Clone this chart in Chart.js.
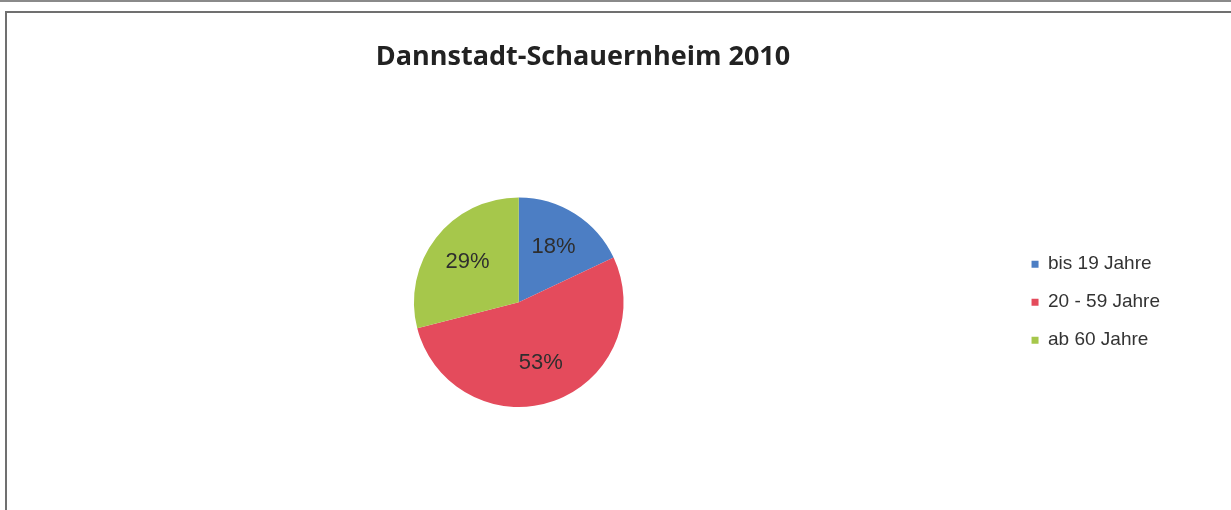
<!DOCTYPE html>
<html lang="de">
<head>
  <meta charset="UTF-8" />
  <title>Dannstadt-Schauernheim 2010</title>
  <script src="https://cdn.jsdelivr.net/npm/chart.js@4.4.0/dist/chart.umd.min.js"></script>
  <style>
    body {
      margin: 0;
      background: #ffffff;
      width: 1231px;
      height: 510px;
      overflow: hidden;
      position: relative;
    }
    /* scanned frame lines */
    .topline {
      position: absolute;
      left: 0; top: 0;
      width: 1231px; height: 2px;
      background: #8a8a8a;
    }
    .frame {
      position: absolute;
      left: 5px; top: 11px;
      width: 1240px; height: 520px;
      border: 2px solid #707070;
    }
    .chart-box {
      position: absolute;
      left: -4px; top: 0;
      width: 1174px; height: 510px;
    }
  </style>
</head>
<body>
  <div class="topline"></div>
  <div class="frame"></div>
  <div class="chart-box"><canvas id="pieChart"></canvas></div>

  <script>
    const title = 'Dannstadt-Schauernheim 2010';
    const categories = ['bis 19 Jahre', '20 - 59 Jahre', 'ab 60 Jahre'];
    const shares = [18, 53, 29];
    const colors = ['#4c7ec4', '#e44b5c', '#a6c74b'];

    // empty box on the left so the pie sits left of the title centre
    const leftSpacer = {
      id: 'leftSpacer',
      beforeInit(chart) {
        Chart.layouts.addBox(chart, {
          position: 'left', weight: 0, fullSize: false,
          options: {},
          left: 0, top: 0, right: 0, bottom: 0, width: 0, height: 0,
          isHorizontal() { return false; },
          update(maxWidth, maxHeight) { this.width = 29; this.height = maxHeight; },
          draw() {}
        });
      }
    };

    // percentage labels inside each slice
    const sliceLabels = {
      id: 'sliceLabels',
      afterDatasetsDraw(chart) {
        const ctx = chart.ctx;
        const meta = chart.getDatasetMeta(0);
        const data = chart.data.datasets[0].data;
        const total = data.reduce((a, b) => a + b, 0);
        ctx.save();
        ctx.font = '22px "Liberation Sans", Arial, sans-serif';
        ctx.fillStyle = '#2e2e2e';
        ctx.textAlign = 'center';
        ctx.textBaseline = 'middle';
        meta.data.forEach((arc, i) => {
          const mid = (arc.startAngle + arc.endAngle) / 2;
          const r = arc.outerRadius * 0.62;
          const x = arc.x + Math.cos(mid) * r;
          const y = arc.y + Math.sin(mid) * r;
          ctx.fillText(Math.round(data[i] / total * 100) + '%', x, y);
        });
        ctx.restore();
      }
    };

    window.pieChart = new Chart(document.getElementById('pieChart'), {
      type: 'pie',
      data: {
        labels: categories,
        datasets: [{ data: shares, backgroundColor: colors, borderWidth: 0, hoverOffset: 0 }]
      },
      options: {
        responsive: true,
        maintainAspectRatio: false,
        animation: false,
        layout: { padding: { left: 0, right: 0, top: 0, bottom: 103 } },
        plugins: {
          tooltip: { enabled: false },
          title: {
            display: true,
            text: title,
            color: '#222222',
            font: { family: '"Open Sans", sans-serif', size: 27, weight: 'bold' },
            padding: { top: 41, bottom: 124 }
          },
          legend: {
            position: 'right',
            fullSize: false,
            labels: {
              boxWidth: 7,
              boxHeight: 7,
              padding: 19,
              color: '#333333',
              font: { family: '"Liberation Sans", Arial, sans-serif', size: 19 }
            }
          }
        }
      },
      plugins: [leftSpacer, sliceLabels]
    });
  </script>
</body>
</html>
